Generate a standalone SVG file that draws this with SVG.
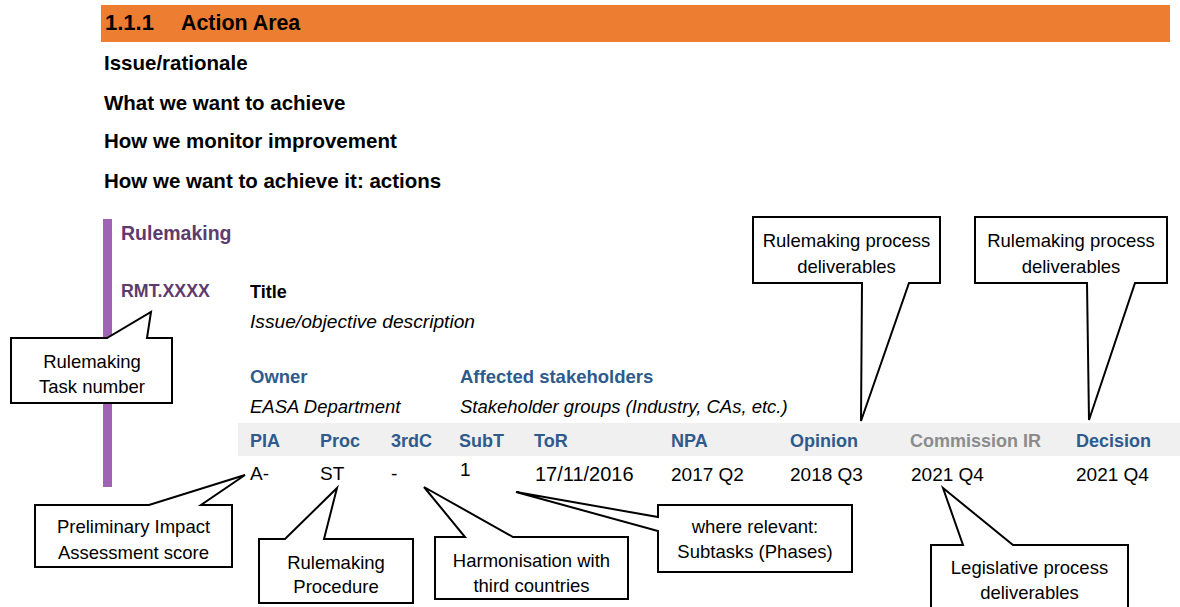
<svg xmlns="http://www.w3.org/2000/svg" width="1180" height="607" viewBox="0 0 1180 607">
<style>
text{font-family:"Liberation Sans",Arial,sans-serif;}
.h{font-weight:bold;font-size:20.5px;fill:#000;}
.pu{font-weight:bold;font-size:19.5px;fill:#5E3A6E;}
.bl{font-weight:bold;font-size:18.5px;fill:#2E5B8C;}
.th{font-weight:bold;font-size:18px;fill:#2E5B8C;}
.gr{font-weight:bold;font-size:18px;fill:#8C8C8C;}
.it{font-style:italic;font-size:18.5px;fill:#000;}
.v{font-size:19px;fill:#000;}
.c{font-size:18.5px;fill:#000;text-anchor:middle;}
.co{fill:#fff;stroke:#000;stroke-width:2;stroke-linejoin:miter;}
</style>
<rect width="1180" height="607" fill="#fff"/>
<g id="heading">
<rect x="101" y="5" width="1069" height="37" fill="#ED7D31"/>
<text class="h" x="105" y="30" style="font-size:22px">1.1.1</text>
<text class="h" x="181" y="30" style="font-size:21.4px">Action Area</text>
</g>
<g id="sections">
<text class="h" x="104" y="70">Issue/rationale</text>
<text class="h" x="104" y="109.5">What we want to achieve</text>
<text class="h" x="104" y="148">How we monitor improvement</text>
<text class="h" x="104" y="187.5">How we want to achieve it: actions</text>
</g>
<g id="rulemaking-block">
<rect x="103" y="219" width="9" height="268" fill="#A062B2"/>
<text class="pu" x="121" y="240">Rulemaking</text>
<text class="pu" x="121" y="296.5" style="font-size:17.8px">RMT.XXXX</text>
<text x="250" y="298" style="font-weight:bold;font-size:18px">Title</text>
<text class="it" x="250" y="328" style="font-size:19.2px">Issue/objective description</text>
<text class="bl" x="250" y="383">Owner</text>
<text class="bl" x="460" y="383">Affected stakeholders</text>
<text class="it" x="250" y="413">EASA Department</text>
<text class="it" x="460" y="413">Stakeholder groups (Industry, CAs, etc.)</text>
</g>
<g id="table">
<rect x="238" y="423" width="942" height="33" fill="#F0F0F0"/>
<text class="th" x="250" y="447">PIA</text>
<text class="th" x="320" y="447">Proc</text>
<text class="th" x="391" y="447">3rdC</text>
<text class="th" x="459" y="447">SubT</text>
<text class="th" x="534" y="447">ToR</text>
<text class="th" x="671" y="447">NPA</text>
<text class="th" x="790" y="447">Opinion</text>
<text class="gr" x="910" y="447">Commission IR</text>
<text class="th" x="1076" y="447">Decision</text>
<text class="v" x="250" y="480">A-</text>
<text class="v" x="320" y="480">ST</text>
<text class="v" x="391" y="480">-</text>
<text class="v" x="460" y="476">1</text>
<text class="v" x="535" y="481" style="font-size:20px">17/11/2016</text>
<text class="v" x="671" y="481">2017 Q2</text>
<text class="v" x="790" y="481">2018 Q3</text>
<text class="v" x="911" y="481">2021 Q4</text>
<text class="v" x="1076" y="481">2021 Q4</text>
</g>
<g id="callout-task-number">
<path class="co" d="M11,338 L107,338 L151,312 L147,338 L172,338 L172,403 L11,403 Z"/>
<text class="c" x="92" y="368">Rulemaking</text>
<text class="c" x="92" y="393">Task number</text>
</g>
<g id="callout-rm-deliverables-1">
<path class="co" d="M753,217 L940,217 L940,283 L909,283 L861,421 L862,283 L753,283 Z"/>
<text class="c" x="846.5" y="247">Rulemaking process</text>
<text class="c" x="846.5" y="273">deliverables</text>
</g>
<g id="callout-rm-deliverables-2">
<path class="co" d="M975,217 L1167,217 L1167,283 L1135,283 L1089,420 L1087,283 L975,283 Z"/>
<text class="c" x="1071" y="247">Rulemaking process</text>
<text class="c" x="1071" y="273">deliverables</text>
</g>
<g id="callout-pia">
<path class="co" d="M35,505 L149,505 L245,475 L201,505 L232,505 L232,567 L35,567 Z"/>
<text class="c" x="133.5" y="533">Preliminary Impact</text>
<text class="c" x="133.5" y="559">Assessment score</text>
</g>
<g id="callout-procedure">
<path class="co" d="M259,539 L285,539 L337,488 L324,539 L413,539 L413,603 L259,603 Z"/>
<text class="c" x="336" y="569">Rulemaking</text>
<text class="c" x="336" y="593">Procedure</text>
</g>
<g id="callout-harmonisation">
<path class="co" d="M435,537 L465,537 L424,487 L513,537 L628,537 L628,599 L435,599 Z"/>
<text class="c" x="531.5" y="567">Harmonisation with</text>
<text class="c" x="531.5" y="592">third countries</text>
</g>
<g id="callout-subtasks">
<path class="co" d="M658,505 L852,505 L852,572 L658,572 L658,531 L516,492 L658,517 Z"/>
<text class="c" x="755" y="533">where relevant:</text>
<text class="c" x="755" y="558">Subtasks (Phases)</text>
</g>
<g id="callout-legislative">
<path class="co" d="M931,545 L963,545 L943,488 L1013,545 L1128,545 L1128,620 L931,620 Z"/>
<text class="c" x="1029.5" y="574">Legislative process</text>
<text class="c" x="1029.5" y="599">deliverables</text>
</g>
</svg>
